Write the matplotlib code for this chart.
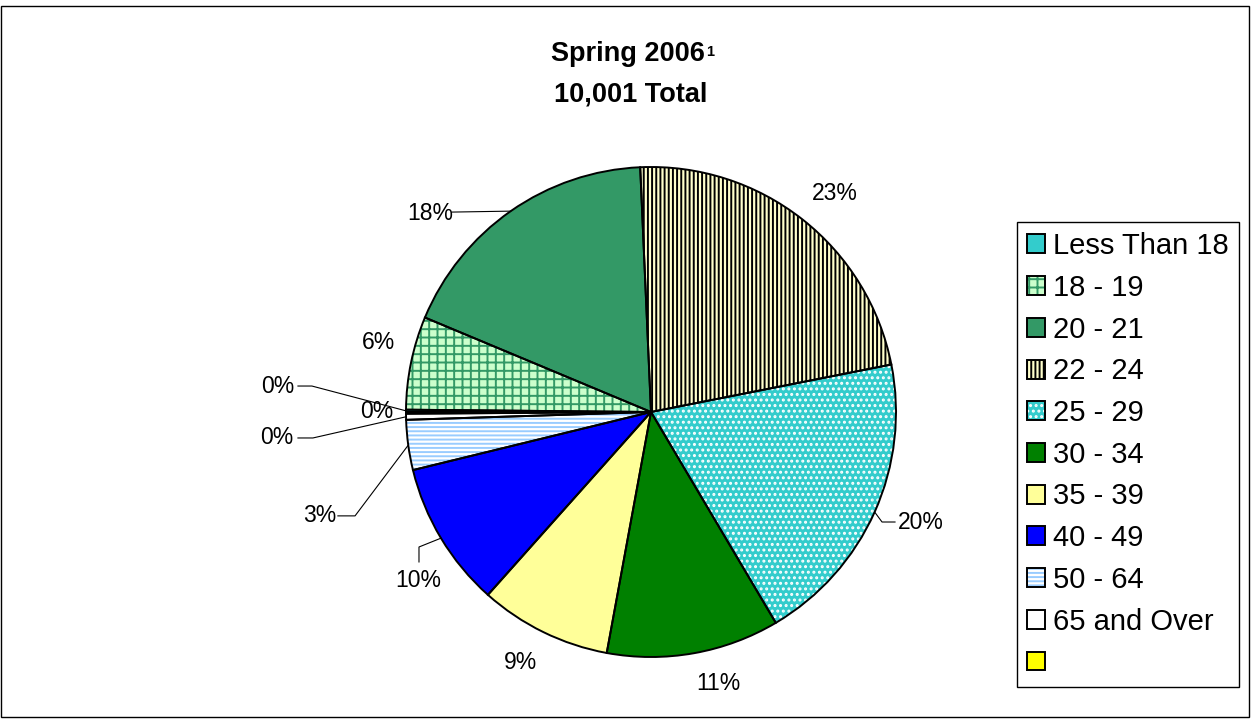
import numpy as np
import matplotlib
matplotlib.use('Agg')
import matplotlib.pyplot as plt
from matplotlib.patches import Patch, Rectangle

plt.rcParams['font.family'] = ['Liberation Sans', 'DejaVu Sans']
plt.rcParams['hatch.linewidth'] = 1.4

# data (student counts by age group, Spring 2006)
groups = ['Less Than 18', '18 - 19', '20 - 21', '22 - 24', '25 - 29', '30 - 34',
          '35 - 39', '40 - 49', '50 - 64', '65 and Over', '']
students = [15, 615, 1800, 2260, 1960, 1140, 870, 960, 330, 40, 11]

# styles
face = ['#33CCCC', '#CCFFCC', '#339966', '#FFFFCC', '#33CCCC', '#008000',
        '#FFFF99', '#0000FF', '#FFFFFF', '#FFFFFF', '#FFFF00']
hatch = [None, '++', None, '||||', '...', None, None, None, '----', None, None]
hatch_col = [None, '#339966', None, '#000000', '#FFFFFF', None, None, None, '#99CCFF', None, None]

# label layout (data units, pie radius = 1)
lab_xy = [(-1.522, 0.106), (-1.114, 0.282), (-0.902, 0.812), (0.751, 0.890),
          (1.102, -0.453), (0.273, -1.110), (-0.531, -1.024), (-0.951, -0.686),
          (-1.351, -0.424), (-1.527, -0.106), (-1.118, 0.004)]
leaders = [[(-1.441, 0.106), (-1.384, 0.106)], None, [(-0.812, 0.816)], None,
           [(0.996, -0.449), (0.943, -0.449)], None, None,
           [(-0.947, -0.612), (-0.947, -0.551)],
           [(-1.278, -0.424), (-1.208, -0.424)],
           [(-1.441, -0.106), (-1.380, -0.106)], None]

W, H = 1253, 719
fig = plt.figure(figsize=(W / 100, H / 100), dpi=100)
ax = fig.add_axes([0, 0, 1, 1])

cx, cy, R = 651, 412, 245
total = sum(students)

wedges, _ = ax.pie(students, colors=face, startangle=180, counterclock=False,
                   wedgeprops=dict(linewidth=0))
for w, h, hc in zip(wedges, hatch, hatch_col):
    if h:
        w.set_hatch(h)
        w.set_edgecolor(hc)
# outlines on top
outl, _ = ax.pie(students, colors=['none'] * len(students), startangle=180,
                 counterclock=False,
                 wedgeprops=dict(linewidth=1.4, edgecolor='black', fill=False))

ax.set_xlim(-cx / R, (W - cx) / R)
ax.set_ylim(-(H - cy) / R, cy / R)
ax.axis('off')

for i, w in enumerate(wedges):
    pct = '%d%%' % round(100 * students[i] / total)
    x, y = lab_xy[i]
    ax.text(x, y, pct, ha='center', va='center', fontsize=16.5)
    if leaders[i]:
        mid = np.deg2rad((w.theta1 + w.theta2) / 2)
        pts = leaders[i] + [(np.cos(mid), np.sin(mid))]
        ax.plot([p[0] for p in pts], [p[1] for p in pts], color='black', lw=0.8)

# title
fig.text(705 / W, 1 - 61 / H, 'Spring 2006', ha='right', va='baseline',
         fontsize=19.5, fontweight='bold')
fig.text(706 / W, 1 - 56 / H, '1', ha='left', va='baseline',
         fontsize=10.5, fontweight='bold')
fig.text(631 / W, 1 - 102 / H, '10,001 Total', ha='center', va='baseline',
         fontsize=19.5, fontweight='bold')

# legend
handles = []
for f, h, hc in zip(face, hatch, hatch_col):
    base = Patch(facecolor=f, edgecolor=hc if h else f, hatch=h, linewidth=0)
    edge = Patch(facecolor='none', edgecolor='black', linewidth=1.4)
    handles.append((base, edge))
leg = fig.legend(handles, groups, loc='upper left',
                 bbox_to_anchor=(1017 / W, 1 - 222 / H), borderaxespad=0,
                 fontsize=21, fancybox=False, edgecolor='black', framealpha=1,
                 handlelength=0.62, handleheight=0.62, handletextpad=0.25,
                 labelspacing=0.47, borderpad=0.35)
leg.get_frame().set_linewidth(1.0)

# chart border
fig.patches.append(Rectangle((1 / W, 2 / H), 1248 / W, 711 / H, transform=fig.transFigure,
                             fill=False, edgecolor='black', linewidth=1.0))

fig.savefig('out.png', dpi=100)
